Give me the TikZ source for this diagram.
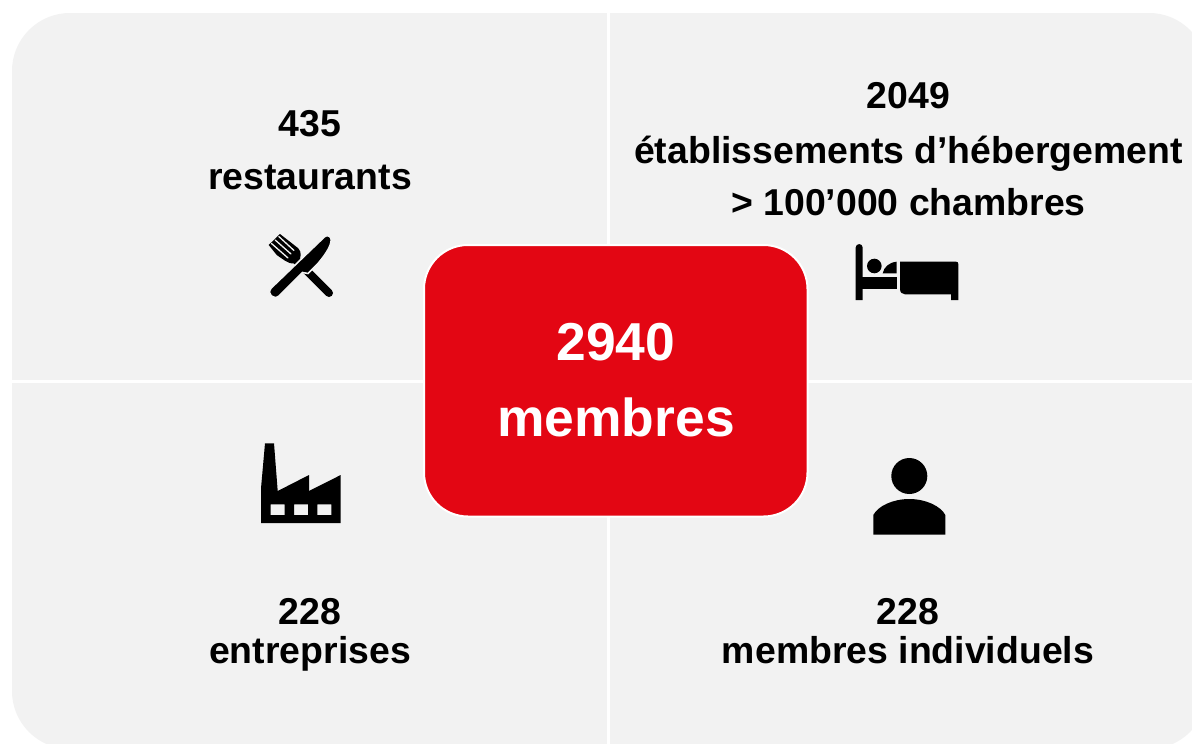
\documentclass[tikz,border=0pt]{standalone}
\usepackage{fontspec}
\setmainfont{Liberation Sans}
\definecolor{panelgray}{HTML}{F2F2F2}
\definecolor{boxred}{HTML}{E30613}
\tikzset{
  x=1pt,y=-1pt,
  panel/.style={fill=panelgray,draw=none,rounded corners=58pt},
  divider/.style={draw=white,line width=3pt},
  centerbox/.style={fill=boxred,draw=white,line width=2pt,rounded corners=44pt},
  lbl/.style={anchor=base,inner sep=0pt,text=black,font=\bfseries\fontsize{37.4}{40}\selectfont},
  biglbl/.style={anchor=base,inner sep=0pt,text=white,font=\bfseries\fontsize{53.4}{58}\selectfont},
  icon/.style={fill=black,draw=none},
  iconline/.style={draw=black,line cap=round},
  slit/.style={draw=panelgray,line width=1.3pt,line cap=round},
}
\begin{document}
\begin{tikzpicture}
\useasboundingbox (0,0) rectangle (1192,744);
\clip (0,0) rectangle (1192,744);
\fill[white] (0,0) rectangle (1192,744);
\path[panel] (12,13) rectangle (1207,749);
\draw[divider] (608,13) -- (608,744);
\draw[divider] (12,381) -- (1192,381);
\path[centerbox] (424,245) rectangle (807.5,516.5);

\node[biglbl] (total) at (616,360) {2940};
\node[biglbl] (members) at (616,436) {membres};

\node[lbl] (a1) at (310,136) {435};
\node[lbl] (a2) at (310,189) {restaurants};
\node[lbl] (b1) at (908.5,108.5) {2049};
\node[lbl] (b2) at (908.5,163) {établissements d’hébergement};
\node[lbl] (b3) at (908.5,215) {> 100’000 chambres};
\node[lbl] (c1) at (310,624) {228};
\node[lbl] (c2) at (310,663) {entreprises};
\node[lbl] (d1) at (908,624) {228};
\node[lbl] (d2) at (908,663) {membres individuels};

% fork
\path[icon] (268.7,245) -- (280,234) -- (298.3,248.3) .. controls (300,250) and (301,253) .. (300.7,255) .. controls (300.5,259) and (298,262) .. (295,263.3) .. controls (291,264) and (288,262.5) .. (285,260.7) -- (276.7,255) -- cycle;
\draw[slit] (271.5,243.5) -- (288,258);
\draw[slit] (275.2,240) -- (291,254);
\draw[slit] (278.8,236.5) -- (294,250.5);
\draw[iconline,line width=8pt] (296,260) -- (329,293);
% knife
\path[icon,draw=panelgray,line width=1.6pt] (271.2,288) -- (324.5,236.8) .. controls (327,234.5) and (331.5,236) .. (331.2,240) .. controls (331,246) and (326,254) .. (318,263.5) -- (308,273.5) -- (302.5,272.5) -- (279,296) .. controls (274,300.5) and (266,294) .. (271.2,288) -- cycle;

% bed
\path[icon] (855.7,300) -- (855.7,247.5) .. controls (855.7,243) and (862.7,243) .. (862.7,247.5) -- (862.7,300) -- cycle;
\path[icon] (862,277) rectangle (896.7,288.5);
\path[icon] (874.3,266) circle[radius=7.3];
\path[icon] (882.7,273.3) .. controls (884,267) and (889,262.5) .. (896.7,261.7) -- (896.7,273.3) -- cycle;
\path[icon] (900,261.7) -- (956,261.7) .. controls (957.5,261.7) and (958.3,262.5) .. (958.3,264) -- (958.3,300) -- (951,300) -- (951,294.3) -- (905,294.3) .. controls (902,294.3) and (900,292.3) .. (900,289) -- cycle;

% factory
\path[icon,even odd rule] (261,523) -- (261,488.3) -- (265,443.3) -- (274,443.3) -- (277.7,491) -- (309,475) -- (309,491) -- (340.7,475) -- (340.7,523) -- cycle
  (270.7,504.3) rectangle (284.7,515)
  (294,504.3) rectangle (308,515)
  (317.3,504.3) rectangle (331.3,515);

% person
\path[icon] (909.3,476) circle[radius=18];
\path[icon] (873.3,534.5) -- (873.3,515) .. controls (878,506) and (893,499) .. (909.3,499) .. controls (925.6,499) and (940.6,506) .. (945.3,515) -- (945.3,534.5) -- cycle;
\end{tikzpicture}
\end{document}
